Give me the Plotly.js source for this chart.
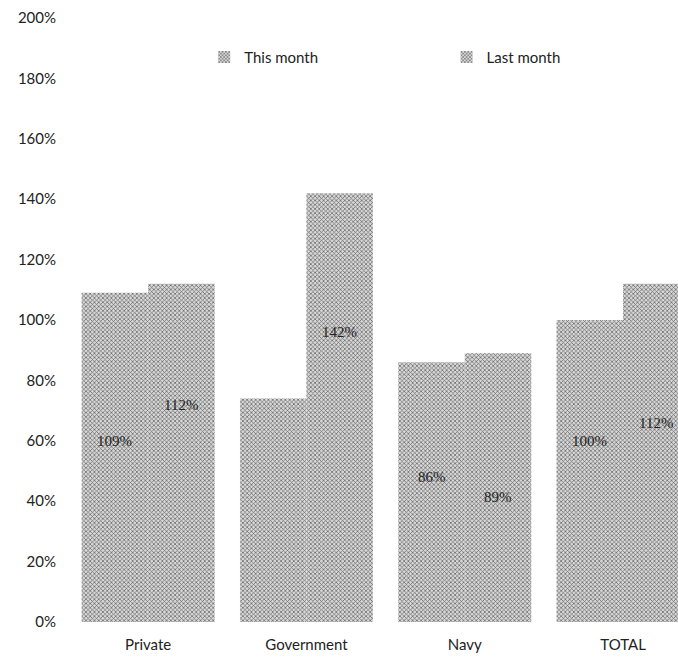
<!DOCTYPE html>
<html>
<head>
<meta charset="utf-8">
<script src="https://cdn.plot.ly/plotly-3.0.1.min.js"></script>
<style>
  html, body { margin: 0; padding: 0; background: #fff; }
  #chart { width: 678px; height: 658px; }
</style>
</head>
<body>
<div id="chart"></div>
<script>
// Monthly ratio by sector, in percent
const categories = ['Private', 'Government', 'Navy', 'TOTAL'];
const thisMonth = [109, 74, 86, 100];
const lastMonth = [112, 142, 89, 112];
const seriesNames = ['This month', 'Last month'];

// Height (in axis units) at which each value label sits; null = no label
const thisLabelAt = [60, null, 48, 60];
const lastLabelAt = [72, 96, 41.5, 66];

const BAR_GAP = 0.16;
const barOffset = (1 - BAR_GAP) / 4;

const texture = {
  shape: 'x',
  size: 3,
  solidity: 0.4,
  fgcolor: '#5e5e5e',
  bgcolor: '#d8d8d8'
};

const traces = [
  {
    type: 'bar',
    name: seriesNames[0],
    legend: 'legend',
    x: categories,
    y: thisMonth,
    marker: { color: '#a8a8a8', pattern: texture, line: { width: 0 } },
    hoverinfo: 'x+y'
  },
  {
    type: 'bar',
    name: seriesNames[1],
    legend: 'legend2',
    x: categories,
    y: lastMonth,
    marker: { color: '#a8a8a8', pattern: texture, line: { width: 0 } },
    hoverinfo: 'x+y'
  }
];

const labelFont = { family: 'Liberation Serif, serif', size: 15, color: '#222' };
const annotations = [];
categories.forEach((c, i) => {
  if (thisLabelAt[i] !== null) {
    annotations.push({
      x: i - barOffset, y: thisLabelAt[i], xref: 'x', yref: 'y',
      text: thisMonth[i] + '%', showarrow: false, font: labelFont
    });
  }
  if (lastLabelAt[i] !== null) {
    annotations.push({
      x: i + barOffset, y: lastLabelAt[i], xref: 'x', yref: 'y',
      text: lastMonth[i] + '%', showarrow: false, font: labelFont
    });
  }
});

const legendFont = { family: 'Lato, sans-serif', size: 15, color: '#222' };
const legendBase = {
  orientation: 'h',
  xanchor: 'left',
  y: 0.935,
  yanchor: 'middle',
  font: legendFont,
  bgcolor: 'rgba(0,0,0,0)'
};

const layout = {
  width: 678,
  height: 658,
  margin: { l: 69, r: 0, t: 18, b: 36 },
  paper_bgcolor: '#ffffff',
  plot_bgcolor: '#ffffff',
  font: { family: 'Lato, sans-serif', size: 14, color: '#222' },
  barmode: 'group',
  bargap: BAR_GAP,
  bargroupgap: 0,
  showlegend: true,
  legend: Object.assign({}, legendBase, { x: 0.222 }),
  legend2: Object.assign({}, legendBase, { x: 0.62 }),
  xaxis: {
    type: 'category',
    range: [-0.5, 3.347],
    showgrid: false,
    zeroline: false,
    showline: false,
    ticks: '',
    ticklabelstandoff: 12,
    tickfont: { family: 'Lato, sans-serif', size: 15, color: '#222' }
  },
  yaxis: {
    range: [0, 200],
    dtick: 20,
    ticksuffix: '%',
    showgrid: false,
    zeroline: false,
    showline: false,
    ticks: '',
    ticklabelstandoff: 12,
    tickfont: { family: 'Lato, sans-serif', size: 15, color: '#222' }
  },
  annotations: annotations
};

Plotly.newPlot('chart', traces, layout, { displayModeBar: false, staticPlot: true });
</script>
</body>
</html>
